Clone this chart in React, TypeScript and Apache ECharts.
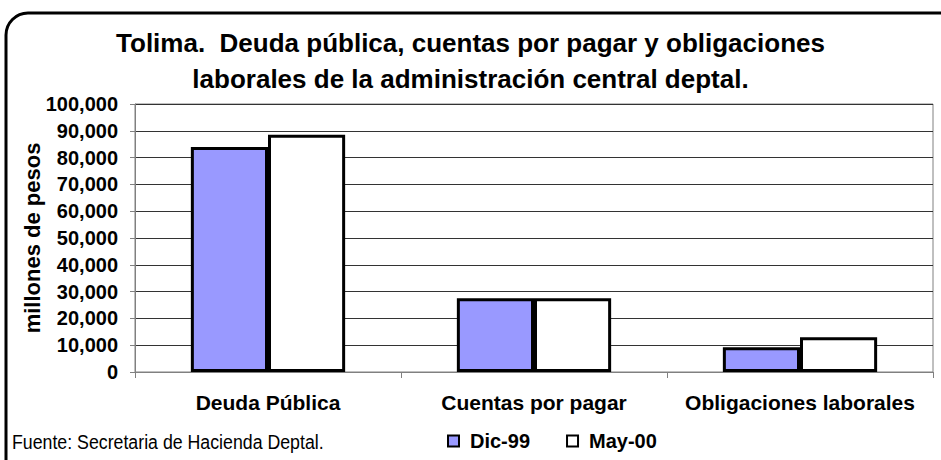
import React, { useEffect, useRef } from "react";
import * as echarts from "echarts";

const categories = ["Deuda Pública", "Cuentas por pagar", "Obligaciones laborales"];
const dic99 = [84000, 27500, 9200];
const may00 = [88500, 27500, 13000];
const seriesNames = ["Dic-99", "May-00"];
const titleText = "Tolima.  Deuda pública, cuentas por pagar y obligaciones\nlaborales de la administración central deptal.";
const yAxisName = "millones de pesos";
const sourceText = "Fuente: Secretaria de Hacienda Deptal.";

const FONT = "'Liberation Sans', Arial, sans-serif";

export default function App() {
  const ref = useRef<HTMLDivElement>(null);
  useEffect(() => {
    document.body.style.margin = "0";
    if (!ref.current) return;
    const chart = echarts.init(ref.current, undefined, { renderer: "svg" });
    chart.setOption({
      animation: false,
      backgroundColor: "#fff",
      textStyle: { fontFamily: FONT },
      title: {
        text: titleText,
        left: "center",
        top: 20,
        textStyle: { fontFamily: FONT, fontSize: 26, fontWeight: "bold", color: "#000", lineHeight: 36 },
      },
      legend: {
        left: 442,
        top: 426,
        itemWidth: 11,
        itemHeight: 11,
        itemGap: 36,
        icon: "rect",
        itemStyle: { borderWidth: 2, borderColor: "#000" },
        textStyle: { fontFamily: FONT, fontSize: 20, fontWeight: "bold", color: "#000", padding: [0, 0, 0, 6] },
        data: seriesNames,
      },
      grid: {
        left: 135,
        right: 8,
        top: 104,
        bottom: 88,
        show: true,
        borderColor: "#808080",
        borderWidth: 1,
      },
      xAxis: {
        type: "category",
        data: categories,
        axisLine: { lineStyle: { color: "#808080", width: 1 } },
        axisTick: { show: true, length: 6, lineStyle: { color: "#808080" } },
        axisLabel: {
          interval: 0,
          hideOverlap: false,
          fontFamily: FONT,
          fontSize: 21,
          fontWeight: "bold",
          color: "#000",
          margin: 20,
        },
      },
      yAxis: {
        type: "value",
        min: 0,
        max: 100000,
        interval: 10000,
        name: yAxisName,
        nameLocation: "middle",
        nameRotate: 90,
        nameGap: 92,
        nameMoveOverlap: false,
        nameTextStyle: { fontFamily: FONT, fontSize: 22, fontWeight: "bold", color: "#000" },
        axisLine: { show: true, lineStyle: { color: "#808080", width: 1 } },
        axisTick: { show: true, length: 5, lineStyle: { color: "#808080" } },
        axisLabel: {
          fontFamily: FONT,
          fontSize: 20,
          fontWeight: "bold",
          color: "#000",
          margin: 17,
          formatter: (v: number) => v.toLocaleString("en-US"),
        },
        splitLine: { show: true, lineStyle: { color: "#333", width: 1 } },
      },
      series: [
        {
          name: seriesNames[0],
          type: "bar",
          data: dic99,
          barGap: "0%",
          barCategoryGap: "42%",
          itemStyle: { color: "#9999FF", borderColor: "#000", borderWidth: 3 },
        },
        {
          name: seriesNames[1],
          type: "bar",
          data: may00,
          barGap: "0%",
          barCategoryGap: "42%",
          itemStyle: { color: "#FFFFFF", borderColor: "#000", borderWidth: 3 },
        },
      ],
      graphic: [
        {
          type: "rect",
          shape: { x: 6, y: 13, width: 980, height: 500, r: 22 },
          style: { fill: "none", stroke: "#000", lineWidth: 3 },
          silent: true,
        },
        {
          type: "text",
          x: 12,
          y: 431,
          scaleX: 0.845,
          style: { text: sourceText, fontFamily: FONT, fontSize: 21, fill: "#000" },
        },
      ],
    });
    return () => chart.dispose();
  }, []);
  return <div ref={ref} style={{ width: 941, height: 460 }} />;
}
